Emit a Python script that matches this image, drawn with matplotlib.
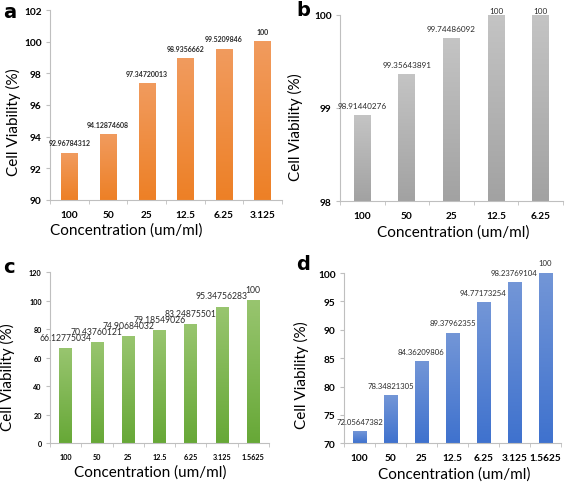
#!/usr/bin/env python3
"""
Cell viability vs concentration - four panel bar chart (a-d)
"""

import numpy as np
import matplotlib
matplotlib.use("Agg")
import matplotlib.pyplot as plt
from matplotlib.colors import LinearSegmentedColormap

# Panel a
conc_a = ['100', '50', '25', '12.5', '6.25', '3.125']
viab_a = [92.96784312, 94.12874608, 97.34720013, 98.9356662, 99.5209846, 100]
labels_a = ['92.96784312', '94.12874608', '97.34720013', '98.9356662', '99.5209846', '100']

# Panel b
conc_b = ['100', '50', '25', '12.5', '6.25']
viab_b = [98.91440276, 99.35643891, 99.74486092, 100, 100]
labels_b = ['98.91440276', '99.35643891', '99.74486092', '100', '100']

# Panel c
conc_c = ['100', '50', '25', '12.5', '6.25', '3.125', '1.5625']
viab_c = [66.12775034, 70.43760121, 74.90684032, 79.18549026, 83.24875501, 95.34756283, 100]
labels_c = ['66.12775034', '70.43760121', '74.90684032', '79.18549026', '83.24875501',
            '95.34756283', '100']

# Panel d
conc_d = ['100', '50', '25', '12.5', '6.25', '3.125', '1.5625']
viab_d = [72.05647382, 78.34821305, 84.36209806, 89.37962355, 94.77173254, 98.23769104, 100]
labels_d = ['72.05647382', '78.34821305', '84.36209806', '89.37962355', '94.77173254',
            '98.23769104', '100']

FONT = ['Lato', 'DejaVu Sans']
AXIS_GRAY = '#bfbfbf'


def draw_panel(fig, rect, letter, letter_xy, cats, vals, labels, ylim, yticks,
               colors, bar_w, tick_fs, value_fs, value_bold, ylab_xy, xlab_x):
    ax = fig.add_axes(rect)
    x = np.arange(len(cats))
    bars = ax.bar(x, vals, width=bar_w, color=colors[1], zorder=2)

    # vertical gradient inside each bar (light top, darker bottom)
    cmap = LinearSegmentedColormap.from_list('g', [colors[1], colors[0]])
    grad = np.linspace(0, 1, 100).reshape(-1, 1)
    for b in bars:
        x0 = b.get_x()
        ax.imshow(grad, extent=(x0, x0 + b.get_width(), ylim[0], b.get_height()),
                  origin='lower', aspect='auto', cmap=cmap, zorder=3)

    ax.set_xlim(-0.5, len(cats) - 0.5)
    ax.set_ylim(*ylim)
    ax.set_yticks(yticks)
    ax.set_xticks(x)
    ax.set_xticklabels(cats)
    ax.set_xticks(np.arange(len(cats) + 1) - 0.5, minor=True)
    ax.tick_params(axis='x', which='major', length=0, pad=7)
    ax.tick_params(axis='x', which='minor', length=3, color=AXIS_GRAY, direction='out')
    ax.tick_params(axis='y', length=3, color=AXIS_GRAY, pad=3)
    for t in ax.get_xticklabels() + ax.get_yticklabels():
        t.set_fontfamily(FONT)
        t.set_fontweight('bold')
        t.set_fontsize(tick_fs)

    for s in ['top', 'right']:
        ax.spines[s].set_visible(False)
    for s in ['left', 'bottom']:
        ax.spines[s].set_color(AXIS_GRAY)
        ax.spines[s].set_linewidth(0.8)
        ax.spines[s].set_zorder(4)

    for xi, v, lab in zip(x, vals, labels):
        off = 5 if v < ylim[1] - 1e-9 or letter != 'b' else 0.5
        ax.annotate(lab, (xi, v), xytext=(0, off), textcoords='offset points',
                    ha='center', va='bottom', fontsize=value_fs, family=FONT,
                    fontweight='bold' if value_bold else 'normal', color='#2b2b2b',
                    annotation_clip=False, zorder=5)

    ax.set_xlabel('Concentration (um/ml)', fontsize=11, family=FONT, labelpad=3)
    ax.xaxis.label.set_x(xlab_x)
    ax.set_ylabel('Cell Viability (%)', fontsize=11, family=FONT)
    ax.yaxis.set_label_coords(*ylab_xy)
    fig.text(letter_xy[0], letter_xy[1], letter, fontsize=14, fontweight='bold',
             family='DejaVu Sans', ha='left', va='center')
    return ax


fig = plt.figure(figsize=(5.67, 4.85), dpi=100)

draw_panel(fig, [0.0882, 0.586, 0.409, 0.391], 'a', (0.005, 0.975),
           conc_a, viab_a, labels_a, (90, 102), np.arange(90, 103, 2),
           ('#f19b5e', '#ed8026'), 0.42, 7.3, 5.0, True, (-0.125, 0.415), 0.33)

draw_panel(fig, [0.5996, 0.5835, 0.3934, 0.384], 'b', (0.523, 0.978),
           conc_b, viab_b, labels_b, (98, 100), [98, 99, 100],
           ('#c4c4c4', '#a2a2a2'), 0.38, 7.3, 5.9, False, (-0.166, 0.40), 0.51)

draw_panel(fig, [0.0882, 0.0839, 0.386, 0.3526], 'c', (0.005, 0.448),
           conc_c, viab_c, labels_c, (0, 120), np.arange(0, 121, 20),
           ('#98c56f', '#67a837'), 0.4, 5.2, 6.2, False, (-0.16, 0.395), 0.46)

draw_panel(fig, [0.6067, 0.0839, 0.3827, 0.351], 'd', (0.523, 0.455),
           conc_d, viab_d, labels_d, (70, 100), np.arange(70, 101, 5),
           ('#7396d7', '#3f72ce'), 0.43, 7.3, 5.6, False, (-0.161, 0.408), 0.51)

fig.savefig('out.png', dpi=100)
